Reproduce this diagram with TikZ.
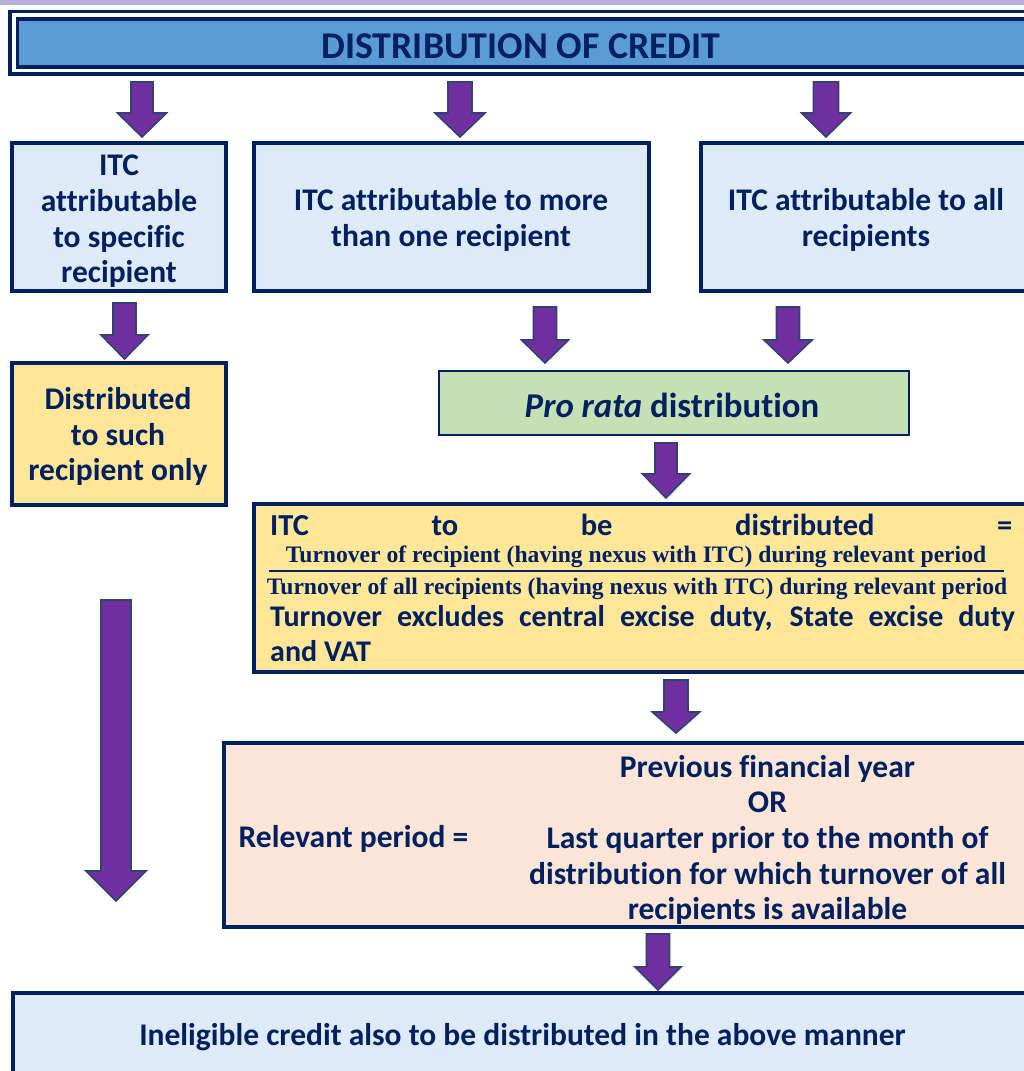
\documentclass[tikz,border=0pt]{standalone}
\usepackage{fontspec}
\setmainfont{Carlito}[Ligatures={NoCommon}]
\newfontfamily\serifb{Liberation Serif}
\usetikzlibrary{calc}
\definecolor{navy}{HTML}{002060}
\definecolor{titleblue}{HTML}{5B9BD5}
\definecolor{lightblue}{HTML}{DEEBF7}
\definecolor{goldfill}{HTML}{FFE699}
\definecolor{prgreen}{HTML}{C5E0B4}
\definecolor{peach}{HTML}{FBE5D6}
\definecolor{arrowpurple}{HTML}{7030A0}
\definecolor{arrowedge}{HTML}{2E4372}
\definecolor{lavender}{HTML}{B8B0D8}
\newcommand{\blockarrow}[6]{%
  \draw[barrow] (#1-#5,#2) -- (#1+#5,#2) -- (#1+#5,#3) -- (#1+#6,#3) -- (#1,#4)
    -- (#1-#6,#3) -- (#1-#5,#3) -- cycle;}
\tikzset{
  box/.style={draw=navy, line width=3.5pt, align=center, text=navy, inner sep=0pt,
    font=\bfseries\fontsize{31.5}{35.7}\selectfont},
  txt/.style={text=navy, inner sep=0pt, font=\bfseries\fontsize{31.5}{35.7}\selectfont},
  frac/.style={text=navy, inner sep=0pt, font=\serifb\bfseries\fontsize{23.6}{26}\selectfont},
  barrow/.style={fill=arrowpurple, draw=arrowedge, line width=1.6pt, line join=miter},
}
\begin{document}
\begin{tikzpicture}[x=1pt,y=-1pt]
\path[use as bounding box] (0,0) rectangle (1024,1071);
\clip (0,0) rectangle (1024,1071);
\fill[lavender] (0,0) rectangle (1024,5);

% title
\node[draw=navy, line width=3.5pt, minimum width=1030pt, minimum height=62.5pt, inner sep=0pt] (titleouter) at (525,42.75) {};
\node[draw=navy, line width=3.5pt, fill=titleblue, minimum width=1012.5pt, minimum height=48pt, inner sep=0pt] (titleinner) at (523.75,43) {};
\node[txt, font=\bfseries\fontsize{37.8}{40}\selectfont] (titletext) at (521,46.5) {DISTRIBUTION OF CREDIT};

% row 2
\node[box, fill=lightblue, minimum width=214pt, minimum height=148pt] (specific) at (119,217) {};
\node[txt, align=center] (specifictext) at (119,221.5) {ITC\\attributable\\to specific\\recipient};
\node[box, fill=lightblue, minimum width=395pt, minimum height=148pt] (more) at (451.5,217) {};
\node[txt, align=center] (moretext) at (451,220) {ITC attributable to more\\than one recipient};
\node[box, fill=lightblue, minimum width=330pt, minimum height=148pt] (all) at (866,217) {};
\node[txt, align=center] (alltext) at (866,220) {ITC attributable to all\\recipients};

% distributed to such recipient
\node[box, fill=goldfill, minimum width=214pt, minimum height=142pt] (such) at (119,434) {};
\node[txt, align=center] (suchtext) at (118,436.5) {Distributed\\to such\\recipient only};

% pro rata
\node[box, line width=2.5pt, fill=prgreen, minimum width=470pt, minimum height=64pt] (prorata) at (673.75,403) {};
\node[txt, font=\bfseries\fontsize{34.8}{38}\selectfont] (proratatext) at (672,405) {\itshape Pro rata\upshape{} distribution};

% formula box
\node[box, fill=goldfill, minimum width=786pt, minimum height=168pt] (formula) at (647,588) {};
\node[txt, anchor=base west, font=\bfseries\fontsize{30.5}{35}\selectfont] (itcline) at (270,535.5) {\makebox[742pt][l]{ITC\hfill to\hfill be\hfill distributed\hfill =}};
\node[frac, anchor=base] (num) at (636,562.5) {Turnover of recipient (having nexus with ITC) during relevant period};
\node[frac, anchor=base] (den) at (637,594.5) {Turnover of all recipients (having nexus with ITC) during relevant period};
\draw[navy, line width=2pt] (269,571) -- (1004,571);
\node[txt, anchor=base west, font=\bfseries\fontsize{30}{35}\selectfont] (excl) at (270,626.5) {\makebox[745pt][s]{Turnover excludes central excise duty, State excise duty}};
\node[txt, anchor=base west, font=\bfseries\fontsize{30}{35}\selectfont] (vat) at (270,661.5) {and VAT};

% relevant period
\node[box, fill=peach, minimum width=816pt, minimum height=184pt] (period) at (632,835) {};
\node[txt, anchor=west] (periodlabel) at (238.5,838.5) {Relevant period =};
\node[txt, align=center] (periodtext) at (767.5,840) {Previous financial year\\OR\\Last quarter prior to the month of\\distribution for which turnover of all\\recipients is available};

% bottom
\node[box, fill=lightblue, minimum width=1026pt, minimum height=96pt] (ineligible) at (526,1041) {};
\node[txt] (ineligibletext) at (522.5,1037.5) {Ineligible credit also to be distributed in the above manner};

% arrows
\blockarrow{142}{82}{113}{137}{11}{24.5}
\blockarrow{460}{82}{113}{137}{12}{25}
\blockarrow{826}{82}{113}{137}{12.5}{24.5}
\blockarrow{124.5}{303}{335}{359}{11.5}{23.5}
\blockarrow{545}{307}{340}{363}{11.5}{23.5}
\blockarrow{788}{307}{340}{363}{11.5}{24}
\blockarrow{666}{443}{474}{498}{11}{23.5}
\blockarrow{676}{680}{712}{733}{12}{23.7}
\blockarrow{658}{934}{967}{990}{11.5}{23}
\blockarrow{116}{600}{871}{901}{15}{30}
\end{tikzpicture}
\end{document}
